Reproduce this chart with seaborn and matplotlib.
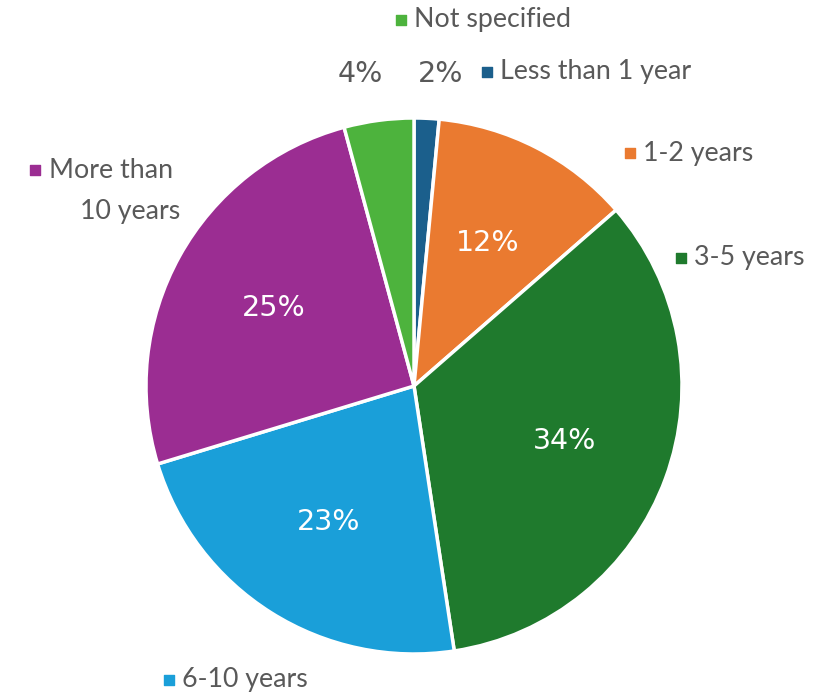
import matplotlib
matplotlib.use("Agg")
import matplotlib.pyplot as plt
import seaborn as sns

# data (share of respondents, %)
categories = ["Less than 1 year", "1-2 years", "3-5 years", "6-10 years",
              "More than 10 years", "Not specified"]
shares = [1.5, 12.1, 34.0, 22.7, 25.5, 4.2]
pct_labels = ["2%", "12%", "34%", "23%", "25%", "4%"]
colors = ["#1b5f8c", "#ea7a30", "#1f7a2d", "#1a9fd9", "#9b2d92", "#4db33d"]

sns.set_theme(style="white")
plt.rcParams["font.family"] = ["Lato", "DejaVu Sans"]

W, H = 831, 695
fig = plt.figure(figsize=(W / 100, H / 100), dpi=100)
ax = fig.add_axes([0, 0, 1, 1])


def py(y):
    # pixel row from the top -> data y
    return H - y


gray = "#595959"
wedges, _, autotexts = ax.pie(
    shares, colors=colors, startangle=90, counterclock=False,
    center=(414, py(386)), radius=268, frame=True,
    autopct="%1.0f%%", pctdistance=0.6,
    wedgeprops=dict(edgecolor="white", linewidth=2.5),
    textprops=dict(color="white", fontsize=20.5, family="DejaVu Sans"),
)
ax.set_xlim(0, W)
ax.set_ylim(0, H)
ax.set_aspect("equal")
ax.axis("off")

for t, lab in zip(autotexts, pct_labels):
    t.set_text(lab)

# small slices get their percentages outside, in gray
autotexts[0].set_position((441, py(74)))
autotexts[0].set_color(gray)
autotexts[5].set_position((360, py(74)))
autotexts[5].set_color(gray)

# category labels with a little coloured square
label_pos = {
    "Less than 1 year": (487, 72),
    "1-2 years": (630, 153),
    "3-5 years": (681, 258),
    "6-10 years": (169, 680),
    "More than 10 years": (35, 170),
    "Not specified": (401, 20),
}
for cat, col in zip(categories, colors):
    x, y = label_pos[cat]
    ax.scatter([x], [py(y)], marker="s", s=50, color=col, clip_on=False)
    if cat == "More than 10 years":
        ax.text(x + 14, py(y), "More than", color=gray, fontsize=19.3, va="center")
        ax.text(x + 45, py(y + 42), "10 years", color=gray, fontsize=19.3, va="center")
    else:
        ax.text(x + 13, py(y), cat, color=gray, fontsize=19.3, va="center")

fig.savefig("out.png", dpi=100, facecolor="white")
